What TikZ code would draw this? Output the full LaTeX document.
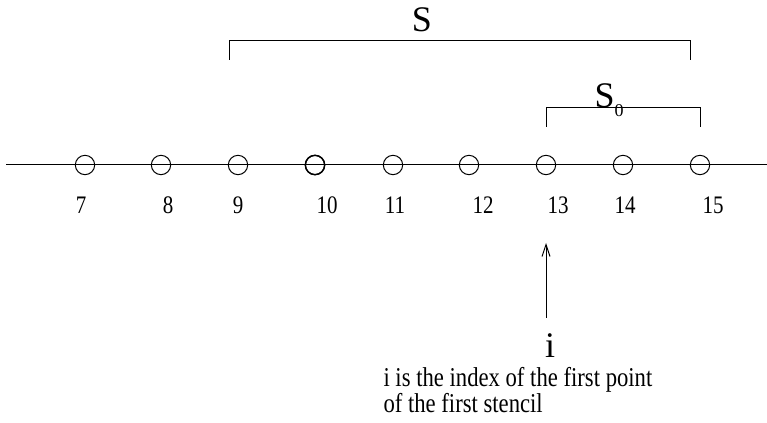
\documentclass[tikz,border=0pt]{standalone}
\usepackage{fontspec}
\setmainfont{Liberation Serif}
\usepackage{tikz}
\usetikzlibrary{arrows.meta}

\begin{document}
\begin{tikzpicture}[x=0.75pt, y=-0.75pt, line width=0.75pt,
		point/.style={draw, circle, minimum size=14.5pt, inner sep=0pt},
		index/.style={font=\fontsize{15.75}{18}\selectfont, inner sep=0pt, anchor=base},
		note/.style={font=\fontsize{17}{20}\selectfont, inner sep=0pt, anchor=base west},
		big/.style={font=\fontsize{27}{30}\selectfont, inner sep=0pt, anchor=base}]
		\useasboundingbox (0,0) rectangle (767,423);

		% grid line and points
		\coordinate (L) at (6, 165);
		\coordinate (R) at (767, 165);
		\draw (L) -- (R);
		\foreach \n/\x/\lx in {7/85/81, 8/161/168, 9/238/238, 10/315/327, 11/393/395,
				12/469/483, 13/546/558, 14/623/625, 15/700/713} {
			\node[point] (p\n) at (\x, 165) {};
			\node[index] (n\n) at (\lx, 214) {\scalebox{1}[1.2]{\n}};
		}
		\node[point, line width=1.1pt] at (p10) {};

		% stencils
		\coordinate (SA) at (229, 60);
		\coordinate (SB) at (690, 60);
		\draw (SA) -- ++(0,-19) coordinate (SA') -- (SA' -| SB) -- (SB);
		\node[big] (S) at (422, 32) {S};

		\coordinate (TA) at (546, 127);
		\coordinate (TB) at (700, 127);
		\draw (TA) -- ++(0,-19) coordinate (TA') -- (TA' -| TB) -- (TB);
		\node[big, anchor=base west] (S0) at (594, 108)
			{S\raisebox{-6.5pt}{\fontsize{13.5}{15}\selectfont 0}};

		% index of the first point
		\node[big] (i) at (550, 358) {i};
		\coordinate (tail) at (546, 318);
		\coordinate (tip) at (546, 243);
		\draw[-{Straight Barb[length=9pt, width=6pt]}] (tail) -- (tip);
		\node[note] (note1) at (383, 387) {\scalebox{1}[1.2]{i is the index of the first point}};
		\node[note] (note2) at (383, 413) {\scalebox{1}[1.2]{of the first stencil}};
	\end{tikzpicture}
\end{document}
